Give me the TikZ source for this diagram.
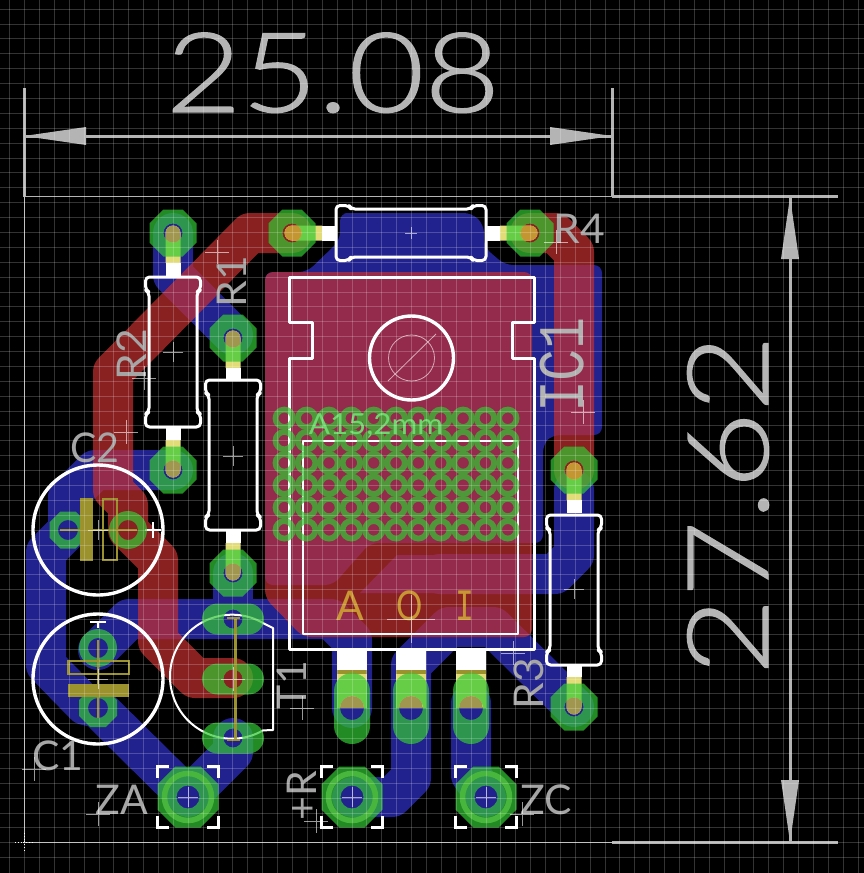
\documentclass[tikz,border=0pt]{standalone}
\usepackage{fontspec}
\usepackage{graphicx}
\setmainfont{Lato}
\newfontfamily\dimfont[UprightFont=* Light,RawFeature={embolden=1}]{Lato}
\newfontfamily\monofam{Liberation Mono}
\definecolor{bluecu}{RGB}{34,34,143}
\definecolor{redcu}{RGB}{198,48,48}
\definecolor{greenpad}{RGB}{50,199,50}
\definecolor{yel}{RGB}{225,220,120}
\definecolor{olive1}{RGB}{160,150,80}
\definecolor{olive2}{RGB}{195,150,50}
\definecolor{olive3}{RGB}{155,145,45}
\definecolor{dim}{RGB}{180,180,180}
\definecolor{name}{RGB}{165,165,165}
\definecolor{gold}{RGB}{200,150,50}
\definecolor{lgreen}{RGB}{110,215,110}
\definecolor{ringgreen}{RGB}{72,182,60}
\tikzset{
  bluetrace/.style={draw=bluecu,line width=40pt,line cap=round,line join=round},
  redtrace/.style={draw=redcu,line width=40pt,line cap=round,line join=round},
  silk/.style={draw=white,line width=3pt,line join=round},
  thinsilk/.style={draw=white,line width=1.6pt,line join=round},
  dimline/.style={draw=dim,line width=3pt},
  outline/.style={draw=dim,line width=1pt},
  crossline/.style={draw=white,opacity=.6,line width=.8pt},
  arrowfill/.style={fill=dim},
  lab/.style={anchor=base,inner sep=0pt,outer sep=0pt},
  bracket/.style={draw=white,line width=2.6pt}
}
\newcommand{\octo}[1]{(#1,{-.414*#1})--(#1,{.414*#1})--({.414*#1},#1)--({-.414*#1},#1)--(-#1,{.414*#1})--(-#1,{-.414*#1})--({-.414*#1},-#1)--({.414*#1},-#1)--cycle}
\newcommand{\padoct}[4]{\fill[greenpad,even odd rule,shift={(#1,#2)}] \octo{#3} (0,0) circle[radius=#4];}
\newcommand{\padround}[4]{\fill[greenpad,even odd rule,shift={(#1,#2)}] (0,0) circle[radius=#3] (0,0) circle[radius=#4];}
\newcommand{\padlong}[3]{\fill[greenpad,even odd rule,shift={(#1,#2)}] (-15.5,-15.5) arc[start angle=-90,end angle=-270,radius=15.5] -- (15.5,15.5) arc[start angle=90,end angle=-90,radius=15.5] -- cycle (0,0) circle[radius=#3];}
% lead under a pad: rot 0 runs down, 180 up, 90 right, -90 left
\newcommand{\leadunder}[3]{\begin{scope}[shift={(#1,#2)},rotate=#3]
  \fill[yel] (-7.5,0) arc[start angle=180,end angle=360,radius=7.5] -- (7.5,30) -- (-7.5,30) -- cycle;
  \fill[white] (-7.5,30) rectangle (7.5,43);
\end{scope}}
\newcommand{\leadhole}[4]{\begin{scope}[shift={(#1,#2)},rotate=#3]
  \clip (0,0) circle[radius=9.5];
  \fill[#4] (-7.5,0) arc[start angle=180,end angle=360,radius=7.5] -- (7.5,12) -- (-7.5,12) -- cycle;
\end{scope}}
\newcommand{\resbody}[3]{\draw[silk,rounded corners=4pt,shift={(#1,#2)},rotate=#3]
  (-60,-24)--(-62,-27.5)--(-75,-27.5)--(-75,27.5)--(-62,27.5)--(-60,24)--(60,24)--(62,27.5)--(75,27.5)--(75,-27.5)--(62,-27.5)--(60,-24)--cycle;}
\newcommand{\crossmark}[3]{\draw[crossline] (#1-#3,#2)--(#1+#3,#2) (#1,#2-#3)--(#1,#2+#3);}
\newcommand{\brackets}[2]{\begin{scope}[shift={(#1,#2)}]
  \draw[bracket] (-30.5,-19)--(-30.5,-30.5)--(-19,-30.5) (19,-30.5)--(30.5,-30.5)--(30.5,-19)
     (30.5,19)--(30.5,30.5)--(19,30.5) (-19,30.5)--(-30.5,30.5)--(-30.5,19);
\end{scope}}
\newcommand{\tlabel}[8]{\node[lab,rotate=#4,text=#7] (#1) at (#2,#3) {\fontsize{#5}{#5}\selectfont\scalebox{#6}[1]{#8}};}
\begin{document}
\begin{tikzpicture}[x=1pt,y=-1pt]
\useasboundingbox (0,0) rectangle (864,873);
\fill[black] (0,0) rectangle (864,873);

% bottom copper
\fill[bluecu,rounded corners=8pt] (350,213)--(472,213)--(484,225)--(484,247)--(505,265)--(602,265)--(602,435)--(552,435)--(543,444)--(543,543)--(370,543)--(333,585)--(265,585)--(265,272)--(307,272)--(333,247)--(340,240)--(340,213)--cycle;
\fill[bluecu] (397,555)--(534,555)--(534,593)--(360,593)--cycle;
\draw[bluetrace] (173,233)--(173,275)--(233,335);
\draw[bluetrace] (173,470)--(95,470)--(68,497)--(68,530)--(46,552)--(46,665)--(85,705)--(98,708)--(188,797)--(233,752)--(233,738);
\draw[bluetrace] (98,650)--(129,619)--(331,619)--(352,640)--(352,708);
\draw[bluetrace] (233,573)--(233,619);
\draw[bluetrace] (574,490)--(574,555)--(555,574)--(440,574);
\draw[bluetrace] (352,797)--(392,797)--(411,778)--(411,665)--(449,627)--(493,627)--(574,707);
\draw[bluetrace] (471,703)--(471,775)--(486,797);

% top copper
\begin{scope}[transparency group,opacity=.7]
\fill[redcu,rounded corners=8pt] (265,272)--(532,272)--(532,637)--(303,637)--(265,598)--cycle;
\draw[redtrace] (292,233)--(250,233)--(113,372)--(113,490)--(128,505)--(128,530)--(158,560)--(158,641)--(195,678)--(233,678);
\draw[redtrace] (530,233)--(555,233)--(574,252)--(574,470);
\end{scope}

% component outlines and leads, below the pads
\leadunder{173}{233}{0}
\leadunder{173}{470}{180}
\leadunder{233}{338}{0}
\leadunder{233}{573}{180}
\leadunder{292}{233}{90}
\leadunder{530}{233}{-90}
\leadunder{574}{470}{0}
\leadunder{574}{707}{180}
\resbody{173}{352}{90}
\resbody{233}{455}{90}
\resbody{574}{590}{90}
\resbody{411}{233}{0}
% IC leads
\foreach \lx/\nm in {352/a,411/b,471/c}{
  \fill[yel] (\lx-15,674) rectangle (\lx+15,708);
  \fill[olive3] (\lx-15,670) rectangle (\lx+15,674);
  \fill[white] (\lx-15,650) rectangle (\lx+15,670);
}
% IC frame
\draw[silk] (289,277)--(534.5,277)--(534.5,322)--(512,322)--(512,358)--(534.5,358)--(534.5,649)--(289,649)--(289,358)--(312,358)--(312,322)--(289,322)--cycle;
\draw[silk,line width=3.4pt] (411.5,358) circle[radius=42];
\draw[thinsilk] (303,441)--(518,441)--(518,634)--(303,634)--cycle;
% capacitors and transistor
\draw[silk,line width=3.4pt] (98,530) circle[radius=65];
\draw[silk,line width=3.4pt] (98,679) circle[radius=65];
\draw[silk,line width=2.4pt] (145,530)--(161,530) (153,522)--(153,538);
\draw[silk,line width=2.4pt] (90,622)--(106,622) (98,622)--(98,628);
\draw[thinsilk,line width=2pt] (263,623) arc[start angle=-60,end angle=-300,radius=62] -- (273,730) -- (273,628) -- cycle;

% pads
\begin{scope}[transparency group,opacity=.7]
\padoct{173}{233}{23.5}{9.5}
\padoct{173}{470}{23.5}{9.5}
\padoct{233}{338}{23.5}{9.5}
\padoct{233}{573}{23.5}{9.5}
\padoct{292}{233}{23.5}{9.5}
\padoct{530}{233}{23.5}{9.5}
\padoct{574}{470}{23.5}{9.5}
\padoct{574}{707}{23.5}{9.5}
\padoct{68}{530}{18.5}{10}
\padround{128}{530}{19}{10}
\padround{98}{648}{19}{10}
\padoct{98}{708}{19}{10}
\padlong{233}{619}{9.5}
\padlong{233}{679}{9.5}
\padlong{233}{738}{9.5}
\foreach \lx in {352,411,471}{
  \fill[greenpad,even odd rule] (\lx-18,691) arc[start angle=180,end angle=360,radius=18] -- (\lx+18,726) arc[start angle=0,end angle=180,radius=18] -- cycle (\lx,708) circle[radius=12];
}
\foreach \cx in {284.3,306.65,329,351.35,373.7,396.05,418.4,440.75,463.1,485.45,507.8}{
  \foreach \cy in {418.3,440.6,462.9,485.2,507.5,529.8}{
    \fill[greenpad,even odd rule] (\cx,\cy) circle[radius=11.7] (\cx,\cy) circle[radius=5.8];
  }
}
\padoct{188}{797}{30.5}{11.5}
\padoct{352}{797}{30.5}{11.5}
\padoct{486}{797}{30.5}{11.5}
\end{scope}
% stop rings of the terminal pads
\foreach \px/\py in {188/797,352/797,486/797}{
  \draw[ringgreen,line width=5.5pt] (\px,\py) circle[radius=23.5];
}
% olive in the drill holes
\leadhole{173}{233}{0}{olive1}
\leadhole{173}{470}{180}{olive1}
\leadhole{233}{338}{0}{olive1}
\leadhole{233}{573}{180}{olive1}
\leadhole{292}{233}{90}{olive2}
\leadhole{530}{233}{-90}{olive2}
\leadhole{574}{470}{0}{olive2}
\leadhole{574}{707}{180}{olive1}
\foreach \lx in {352,411,471}{
  \begin{scope}
    \clip (\lx,708) circle[radius=12];
    \fill[olive1] (\lx-12,694) rectangle (\lx+12,708);
  \end{scope}
}
% capacitor and transistor symbols
\fill[olive3] (80,498) rectangle (93,561);
\draw[olive3,line width=2.2pt] (103,499) rectangle (117,560);
\draw[olive3,line width=2.2pt] (60,530)--(137,530);
\fill[olive3] (68,684) rectangle (129,697);
\draw[olive3,line width=2.2pt] (68.5,661) rectangle (129,674);
\draw[olive3,line width=2.2pt] (98,640)--(98,718);
\draw[olive3,line width=2.6pt] (235.5,618)--(235.5,740) (227,618)--(240,618) (227,740)--(240,740);
\brackets{188}{797}
\brackets{352}{797}
\brackets{486}{797}

% dimensions and board edge
\draw[outline] (24.5,196.5)--(612,196.5);
\draw[outline] (24.5,196.5)--(24.5,842.5)--(612,842.5);
\draw[dimline] (24,88)--(24,197);
\draw[dimline] (612,88)--(612,197);
\draw[dimline] (24,136)--(612,136);
\fill[arrowfill] (24,136)--(86,127)--(86,145)--cycle;
\fill[arrowfill] (612,136)--(550,127)--(550,145)--cycle;
\draw[dimline] (612,196.5)--(838,196.5);
\draw[dimline] (612,842.5)--(838,842.5);
\draw[dimline] (790,197)--(790,842);
\fill[arrowfill] (790,197)--(781,259)--(799,259)--cycle;
\fill[arrowfill] (790,842)--(781,780)--(799,780)--cycle;
\draw[white,line width=.8pt,dotted] (15,842.5)--(34,842.5) (24.5,833)--(24.5,852);

% text
\tlabel{dimw}{333}{112}{0}{111}{1.18}{dim}{\dimfont 25.08}
\tlabel{dimh}{768}{505}{90}{113}{1.18}{dim}{\dimfont 27.62}
\tlabel{tr4}{579}{243}{0}{41}{1.04}{name}{R4}
\tlabel{tr1}{246}{282}{90}{41}{1.04}{name}{R1}
\tlabel{tr2}{146}{355}{90}{41}{1.04}{name}{R2}
\tlabel{tr3}{543}{684}{90}{41}{1.04}{name}{R3}
\tlabel{tc2}{95}{462}{0}{41}{.96}{name}{C2}
\tlabel{tc1}{58}{770}{0}{41}{1}{name}{C1}
\tlabel{tza}{122}{814}{0}{41}{1}{name}{ZA}
\tlabel{tzc}{546}{814}{0}{41}{1}{name}{ZC}
\tlabel{tt1}{306}{685}{90}{41}{1}{name}{T1}
\tlabel{tpr}{316}{796}{90}{41}{1}{name}{+R}
\tlabel{tic}{583}{365}{90}{65}{.82}{name!85!white}{\monofam IC1}
\tlabel{tarea}{376}{434}{0}{29}{1.08}{lgreen}{A15,2mm}
\tlabel{ta}{350}{620}{0}{41}{1}{gold}{A}
\tlabel{to}{409.5}{620}{0}{41}{.8}{gold}{O}
\tlabel{ti}{465}{620}{0}{45}{.7}{gold}{\monofam I}

% origin crosses
\crossmark{144}{378}{12}
\crossmark{217}{252}{12}
\crossmark{126}{432}{12}
\crossmark{173}{352}{10}
\crossmark{233}{456}{10}
\crossmark{34}{769}{12}
\crossmark{98}{814}{12}
\crossmark{302}{708}{12}
\crossmark{316}{821}{12}
\crossmark{522}{814}{12}
\crossmark{513}{653}{12}
\crossmark{556}{242}{12}
\crossmark{583}{412}{12}
\crossmark{574}{589}{10}
\crossmark{411}{233}{6}
\crossmark{233}{679}{12}
\crossmark{98}{679}{10}
\crossmark{98}{530}{10}
\crossmark{188}{797}{10}
\crossmark{352}{797}{10}
\crossmark{486}{797}{10}
\crossmark{411}{619}{24}
\draw[crossline] (411.5,358) circle[radius=23];
\draw[crossline] (388,381)--(436,334);

% grid
\begin{scope}[white,opacity=.2,line width=.8pt]
\foreach \k in {0,...,57}{
  \draw (9.6+\k*14.885,0)--(9.6+\k*14.885,873);
  \draw (0,9.1+\k*14.885)--(864,9.1+\k*14.885);
}
\end{scope}
\end{tikzpicture}
\end{document}
